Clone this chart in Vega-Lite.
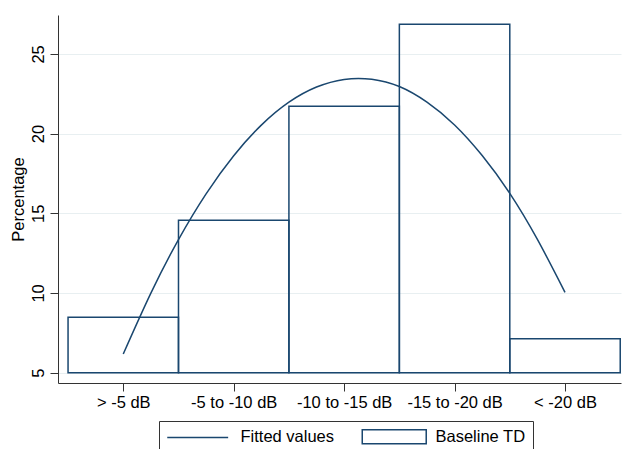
{
  "$schema": "https://vega.github.io/schema/vega-lite/v6.json",
  "width": 563,
  "height": 368,
  "autosize": {"type": "none"},
  "padding": {"left": 58, "top": 15, "right": 1, "bottom": 66},
  "background": "white",
  "config": {"view": {"stroke": null}, "font": "Liberation Sans"},
  "datasets": {
    "bars": [
      {"category": "> -5 dB", "bin_start": 0.5, "bin_end": 1.5, "percentage": 8.47, "series": "Baseline TD"},
      {"category": "-5 to -10 dB", "bin_start": 1.5, "bin_end": 2.5, "percentage": 14.56, "series": "Baseline TD"},
      {"category": "-10 to -15 dB", "bin_start": 2.5, "bin_end": 3.5, "percentage": 21.72, "series": "Baseline TD"},
      {"category": "-15 to -20 dB", "bin_start": 3.5, "bin_end": 4.5, "percentage": 26.86, "series": "Baseline TD"},
      {"category": "< -20 dB", "bin_start": 4.5, "bin_end": 5.5, "percentage": 7.13, "series": "Baseline TD"}
    ],
    "fit": [
      {"x": 1, "fitted": 6.17, "series": "Fitted values"},
      {"x": 1.25, "fitted": 9.99, "series": "Fitted values"},
      {"x": 1.5, "fitted": 13.35, "series": "Fitted values"},
      {"x": 1.75, "fitted": 16.22, "series": "Fitted values"},
      {"x": 2, "fitted": 18.61, "series": "Fitted values"},
      {"x": 2.25, "fitted": 20.53, "series": "Fitted values"},
      {"x": 2.5, "fitted": 21.97, "series": "Fitted values"},
      {"x": 2.75, "fitted": 22.92, "series": "Fitted values"},
      {"x": 3, "fitted": 23.4, "series": "Fitted values"},
      {"x": 3.25, "fitted": 23.41, "series": "Fitted values"},
      {"x": 3.5, "fitted": 22.95, "series": "Fitted values"},
      {"x": 3.75, "fitted": 21.97, "series": "Fitted values"},
      {"x": 4, "fitted": 20.54, "series": "Fitted values"},
      {"x": 4.25, "fitted": 18.62, "series": "Fitted values"},
      {"x": 4.5, "fitted": 16.25, "series": "Fitted values"},
      {"x": 4.75, "fitted": 13.36, "series": "Fitted values"},
      {"x": 5, "fitted": 10.04, "series": "Fitted values"}
    ]
  },
  "layer": [
    {
      "data": {"name": "bars"},
      "mark": {"type": "rect", "filled": false, "strokeWidth": 1.5},
      "encoding": {
        "x": {
          "field": "bin_start", "type": "quantitative",
          "scale": {"domain": [0.409, 5.507], "nice": false, "zero": false},
          "axis": {
            "title": null, "values": [1, 2, 3, 4, 5],
            "labelExpr": "['', '> -5 dB', '-5 to -10 dB', '-10 to -15 dB', '-15 to -20 dB', '< -20 dB'][datum.value]",
            "tickSize": 8, "labelPadding": 3, "grid": false,
            "domainColor": "#333", "tickColor": "#333",
            "labelFontSize": 16.5, "labelColor": "#000", "labelAngle": 0, "labelFont": "Liberation Sans"
          }
        },
        "x2": {"field": "bin_end"},
        "y": {
          "field": "percentage", "type": "quantitative",
          "scale": {"domain": [4.35, 27.44], "nice": false, "zero": false},
          "axis": {
            "title": "Percentage", "values": [5, 10, 15, 20, 25],
            "labelAngle": -90, "labelAlign": "center", "labelBaseline": "bottom",
            "tickSize": 8, "labelPadding": 4, "grid": true, "gridColor": "#e8eff1",
            "domainColor": "#333", "tickColor": "#333",
            "labelFontSize": 16.5, "labelColor": "#000", "labelFont": "Liberation Sans",
            "titleFontSize": 16.5, "titleFontWeight": "normal", "titleColor": "#000",
            "titleFont": "Liberation Sans", "titlePadding": 4
          }
        },
        "y2": {"datum": 5},
        "color": {
          "field": "series", "type": "nominal",
          "scale": {"domain": ["Fitted values", "Baseline TD"], "range": ["#1a476f", "#1a476f"]},
          "legend": {
            "title": null, "orient": "none", "legendX": 101, "legendY": 406,
            "direction": "horizontal", "strokeColor": "#333", "padding": 7,
            "labelFont": "Liberation Sans", "labelFontSize": 16.5, "labelColor": "#000",
            "labelOffset": 58, "columnPadding": 24, "symbolSize": 196,
            "symbolStrokeWidth": 1.5,
            "encode": {
              "symbols": {
                "update": {
                  "shape": {"signal": "datum.value === 'Fitted values' ? 'M-1,0L7.7,0' : 'M-1,-1L8.14,-1L8.14,1L-1,1Z'"},
                  "size": {"value": 196},
                  "stroke": {"value": "#1a476f"},
                  "fill": {"value": "white"},
                  "strokeWidth": {"value": 1.5}
                }
              }
            }
          }
        }
      }
    },
    {
      "data": {"name": "fit"},
      "mark": {"type": "line", "strokeWidth": 1.5, "interpolate": "natural"},
      "encoding": {
        "x": {"field": "x", "type": "quantitative"},
        "y": {"field": "fitted", "type": "quantitative"},
        "color": {"field": "series", "type": "nominal"}
      }
    }
  ]
}
